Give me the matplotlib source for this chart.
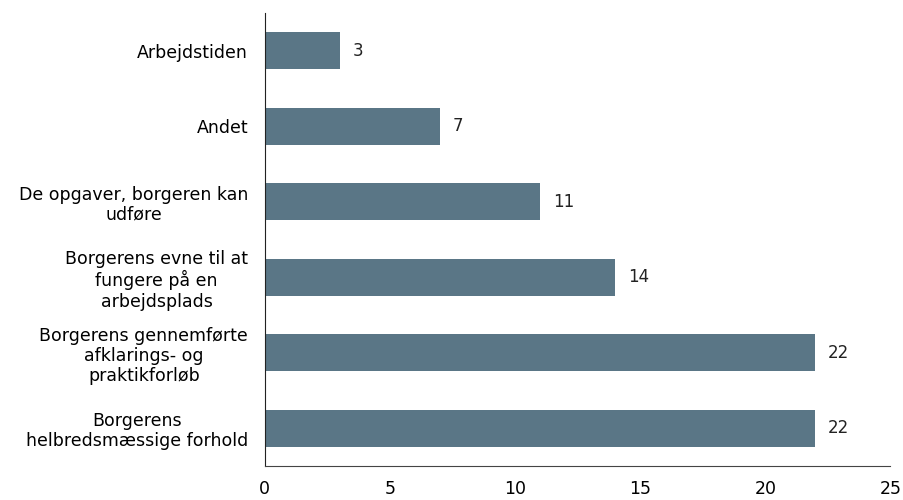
import matplotlib.pyplot as plt

categories = [
    "Borgerens\nhelbredsmæssige forhold",
    "Borgerens gennemførte\nafklarings- og\npraktikforløb",
    "Borgerens evne til at\nfungere på en\narbejdsplads",
    "De opgaver, borgeren kan\nudføre",
    "Andet",
    "Arbejdstiden",
]
values = [22, 22, 14, 11, 7, 3]
xticks = [0, 5, 10, 15, 20, 25]

bar_color = "#5a7686"

fig = plt.figure(figsize=(9.04, 5.0), dpi=100)
ax = fig.add_axes([0.293, 0.068, 0.692, 0.906])

pos = range(len(categories))
bars = ax.barh(pos, values, height=0.49, color=bar_color)

for b, v in zip(bars, values):
    ax.text(b.get_width() + 0.5, b.get_y() + b.get_height() / 2, str(v),
            va="center", ha="left", fontsize=12, color="#222222")

ax.set_yticks(list(pos))
ax.set_yticklabels(categories, fontsize=12.5, multialignment="center", linespacing=1.15)
ax.set_xticks(xticks)
ax.set_xticklabels([str(t) for t in xticks], fontsize=12.5)
ax.set_xlim(0, 25)
ax.set_ylim(-0.5, 5.5)

ax.tick_params(axis="y", length=0, pad=12)
ax.tick_params(axis="x", length=0, pad=10)
for s in ["top", "right"]:
    ax.spines[s].set_visible(False)
ax.spines["left"].set_color("#222222")
ax.spines["bottom"].set_color("#444444")

fig.savefig("out.png", dpi=100)
